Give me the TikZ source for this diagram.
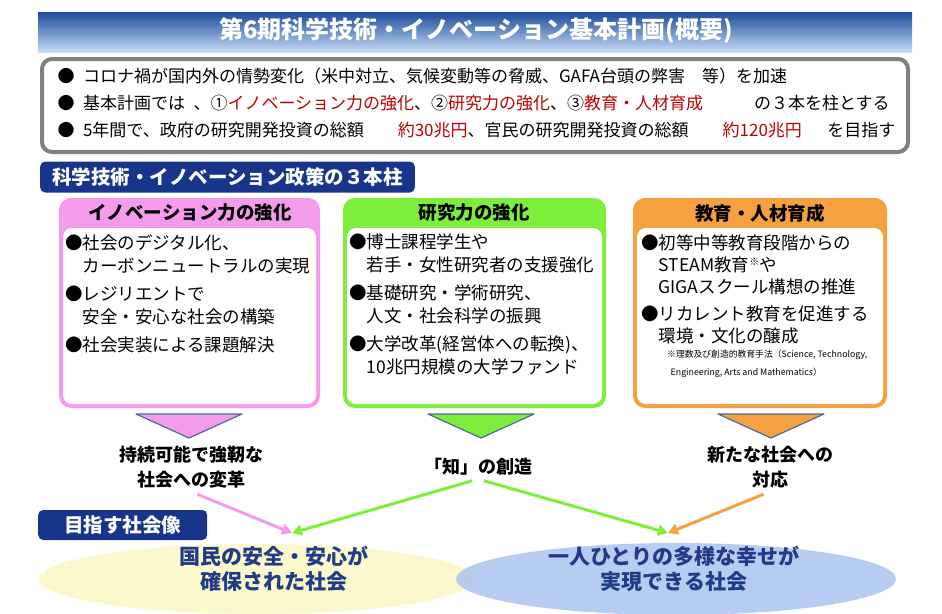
\documentclass[tikz,border=0pt]{standalone}
\usepackage{fontspec}
\setmainfont{Noto Sans CJK JP}
\usetikzlibrary{arrows.meta,positioning,calc,shapes.geometric}

\definecolor{titleblue}{HTML}{1C4A9A}
\definecolor{titlemid}{HTML}{3F72C2}
\definecolor{titlelight}{HTML}{C4DCF5}
\definecolor{navy}{HTML}{17358A}
\definecolor{boxgray}{HTML}{808080}
\definecolor{darkred}{HTML}{C00000}
\definecolor{pinkC}{HTML}{F49CEB}
\definecolor{greenC}{HTML}{7DEE3C}
\definecolor{orangeC}{HTML}{F5A142}
\definecolor{triEdge}{HTML}{4A6A9A}
\definecolor{goalYellow}{HTML}{FAF8CC}
\definecolor{goalBlue}{HTML}{A9C4EE}
\definecolor{goalText}{HTML}{213B86}

\tikzset{
  tag/.style={fill=navy, text=white, rounded corners=5pt, inner xsep=12pt,
    minimum height=31pt, font=\bfseries\fontsize{19.5}{22}\selectfont},
  summary/.style={anchor=west, font=\fontsize{17}{20}\selectfont},
  headline/.style={font=\bfseries\fontsize{18.5}{21}\selectfont},
  items/.style={anchor=north west, align=left, inner sep=1pt,
    font=\fontsize{17.5}{23}\selectfont},
  outcome/.style={align=center, font=\bfseries\fontsize{18}{25}\selectfont},
  goaltext/.style={align=center, text=goalText, font=\bfseries\fontsize{21}{25}\selectfont},
  flow/.style={line width=3pt, -{Triangle[length=10pt,width=11pt]}},
  tri/.style={draw=triEdge, line width=1.2pt, line join=round}
}

\begin{document}
\begin{tikzpicture}[x=1pt,y=-1pt]
  \useasboundingbox (0,0) rectangle (942,613);

  % Title bar
  \shade[top color=titleblue, middle color=titlemid, bottom color=titlelight]
    (38,12) rectangle (912,52);
  \node[text=white, font=\bfseries\fontsize{24}{26}\selectfont] (title) at (476,31)
    {第6期科学技術・イノベーション基本計画(概要)};

  % Summary box
  \draw[boxgray, line width=4pt, rounded corners=10pt, fill=white] (42,59) rectangle (908,152);
  \node[summary] (sum1) at (54,76)
    {●\hspace{0.5em}コロナ禍が国内外の情勢変化（米中対立、気候変動等の脅威、GAFA台頭の弊害\quad 等）を加速};
  \node[summary] (sum2) at (54,103)
    {●\hspace{0.5em}基本計画では\enspace、①{\color{darkred}イノベーション力の強化}、②{\color{darkred}研究力の強化}、③{\color{darkred}教育・人材育成}\qquad\quad の３本を柱とする};
  \node[summary] (sum3) at (54,130)
    {●\hspace{0.5em}5年間で、政府の研究開発投資の総額\qquad{\color{darkred}約30兆円}、官民の研究開発投資の総額\qquad{\color{darkred}約120兆円}\quad\enspace を目指す};

  % Three pillars
  \node[tag, anchor=west] (pillars) at (40,177) {科学技術・イノベーション政策の３本柱};

  \fill[pinkC, rounded corners=12pt] (59,198) rectangle (320,408);
  \fill[white, rounded corners=9pt] (63,228) rectangle (316,404);
  \node[headline] (innovHead) at (190,213) {イノベーション力の強化};
  \node[items] (innovText) at (64,233)
    {●社会のデジタル化、\\ \hspace*{1em}カーボンニュートラルの実現\\[5pt]
     ●レジリエントで\\ \hspace*{1em}安全・安心な社会の構築\\[5pt]
     ●社会実装による課題解決};

  \fill[greenC, rounded corners=12pt] (343,198) rectangle (606,408);
  \fill[white, rounded corners=9pt] (347,228) rectangle (602,404);
  \node[headline] (researchHead) at (474,213) {研究力の強化};
  \node[items] (researchText) at (348,233)
    {●博士課程学生や\\ \hspace*{1em}若手・女性研究者の支援強化\\[5pt]
     ●基礎研究・学術研究、\\ \hspace*{1em}人文・社会科学の振興\\[5pt]
     ●大学改革(経営体への転換)、\\ \hspace*{1em}10兆円規模の大学ファンド};

  \fill[orangeC, rounded corners=12pt] (633,198) rectangle (887,408);
  \fill[white, rounded corners=9pt] (637,228) rectangle (883,404);
  \node[headline] (eduHead) at (760,213) {教育・人材育成};
  \node[items, font=\fontsize{17.5}{22}\selectfont] (eduText) at (640,234)
    {●初等中等教育段階からの\\ \hspace*{1em}STEAM教育\raisebox{0.35em}{\fontsize{10}{10}\selectfont ※}や\\
     \hspace*{1em}GIGAスクール構想の推進\\[5pt]
     ●リカレント教育を促進する\\ \hspace*{1em}環境・文化の醸成};
  \node[anchor=north west, align=left, inner sep=1pt, font=\fontsize{8.8}{18}\selectfont] (eduNote) at (666,349)
    {※理数及び創造的教育手法（Science, Technology,\\ \hspace*{0.4em}Engineering, Arts and Mathematics）};

  % Triangles under the pillars
  \filldraw[tri, fill=pinkC] (136,414) -- (242,414) -- (189,438) -- cycle;
  \filldraw[tri, fill=greenC] (428,414) -- (534,414) -- (481,438) -- cycle;
  \filldraw[tri, fill=orangeC] (718,414) -- (824,414) -- (771,438) -- cycle;

  % Outcomes
  \node[outcome] (sustain) at (191,467) {持続可能で強靭な\\社会への変革};
  \node[outcome] (chi) at (478,467) {「知」の創造};
  \node[outcome] (adapt) at (770,467) {新たな社会への\\対応};

  % Goal society
  \node[tag, anchor=west, minimum height=30pt, minimum width=169pt] (goalTag) at (38,525) {目指す社会像};
  \node[ellipse, fill=goalYellow, minimum width=436pt, minimum height=70pt] (safe) at (257,579) {};
  \node[ellipse, fill=goalBlue, fill opacity=0.85, minimum width=440pt, minimum height=72pt] (happy) at (676,579) {};
  \node[goaltext] (safeText) at (274,569) {国民の安全・安心が\\確保された社会};
  \node[goaltext] (happyText) at (674,569) {一人ひとりの多様な幸せが\\実現できる社会};

  \coordinate (safeIn) at (292,533);
  \coordinate (happyIn) at (668,533);

  % Connectors
  \draw[flow, pinkC, shorten <=7pt] (sustain.south) -- (safeIn);
  \draw[flow, greenC, shorten <=6pt] (chi.south) -- (safeIn);
  \draw[flow, greenC, shorten <=6pt] (chi.south) -- (happyIn);
  \draw[flow, orangeC, shorten <=7pt] (adapt.south) -- (happyIn);
\end{tikzpicture}
\end{document}
